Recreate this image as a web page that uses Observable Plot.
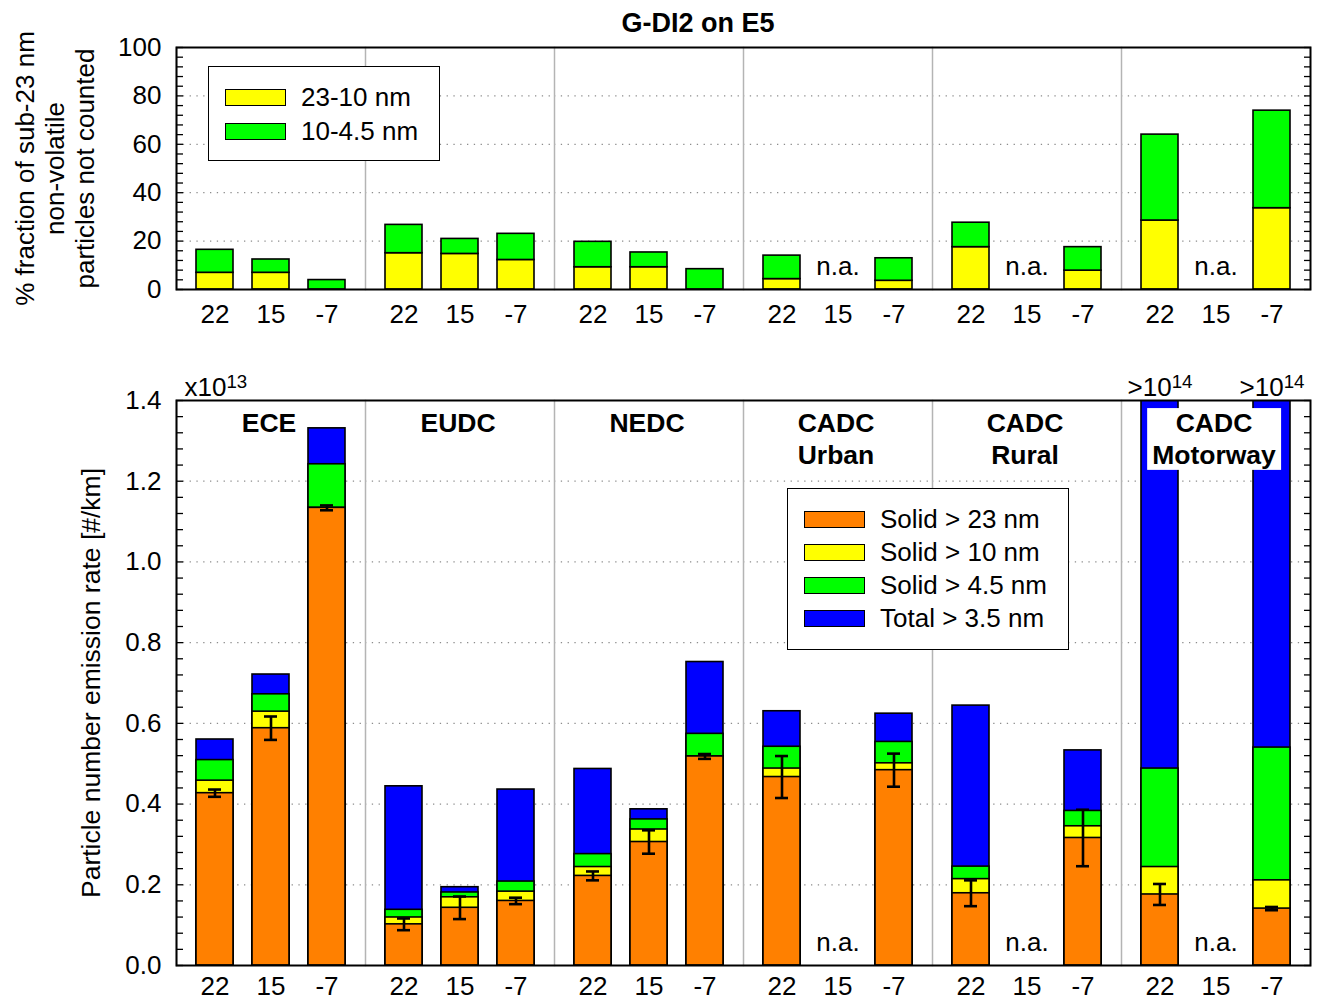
<!DOCTYPE html>
<html>
<head>
<meta charset="utf-8">
<script src="https://cdn.jsdelivr.net/npm/d3@7"></script>
<script src="https://cdn.jsdelivr.net/npm/@observablehq/plot@0.6"></script>
<style>
  body { margin: 0; background: #fff; }
  #chart { position: relative; width: 1320px; height: 1001px; font-family: "Liberation Sans", Arial, Helvetica, sans-serif; color: #000; }
  #chart svg { position: absolute; left: 0; overflow: visible; }
  .title { position: absolute; left: 548px; width: 300px; top: 7px; text-align: center; font-weight: bold; font-size: 27px; line-height: 32px; }
  .legend { position: absolute; border: 1.6px solid #000; background: #fff; box-sizing: border-box; z-index: 2; }
  .legend .row { position: absolute; left: 16px; display: flex; align-items: center; height: 30px; font-size: 26px; white-space: nowrap; }
  .legend .sw { width: 61px; height: 17px; border: 1.6px solid #000; box-sizing: border-box; margin-right: 15px; }
</style>
</head>
<body>
<div id="chart">
  <div class="title">G-DI2 on E5</div>
</div>
<script>
const FONT = '"Liberation Sans", Arial, Helvetica, sans-serif';

// Test cycles (facets) and test-cell temperatures (°C)
const groups = ["ECE", "EUDC", "NEDC", "CADC Urban", "CADC Rural", "CADC Motorway"];
const groupLabels = ["ECE", "EUDC", "NEDC", "CADC\nUrban", "CADC\nRural", "CADC\nMotorway"];
const temps = ["22", "15", "-7"];

// Upper panel: % of sub-23 nm non-volatile particles not counted, split by size band (null = n.a.)
const frac23to10 = [6.9, 6.9, 0, 15.0, 14.7, 12.2, 9.2, 9.2, 0, 4.3, null, 3.6, 17.5, null, 7.8, 28.5, null, 33.6];
const frac10to4p5 = [9.5, 5.5, 3.9, 11.7, 6.2, 10.8, 10.5, 6.1, 8.4, 9.7, null, 9.3, 10.1, null, 9.7, 35.5, null, 40.3];

// Lower panel: particle number emission rate, x10^13 #/km (null = n.a.)
const solid23 = [0.427, 0.588, 1.134, 0.102, 0.143, 0.160, 0.222, 0.306, 0.518, 0.467, null, 0.484, 0.179, null, 0.316, 0.176, null, 0.141];
const solid10 = [0.458, 0.629, 1.134, 0.119, 0.169, 0.183, 0.244, 0.337, 0.518, 0.488, null, 0.501, 0.214, null, 0.345, 0.244, null, 0.211];
const solid4p5 = [0.509, 0.672, 1.242, 0.138, 0.181, 0.208, 0.276, 0.362, 0.574, 0.542, null, 0.554, 0.245, null, 0.383, 0.488, null, 0.540];
const total3p5 = [0.560, 0.721, 1.331, 0.444, 0.194, 0.436, 0.487, 0.387, 0.752, 0.630, null, 0.624, 0.644, null, 0.533, 10, null, 10];
const solid23Err = [0.009, 0.029, 0.006, 0.0145, 0.028, 0.008, 0.011, 0.029, 0.006, 0.052, null, 0.041, 0.032, null, 0.070, 0.026, null, 0.004];

const fracSeries = ["23-10 nm", "10-4.5 nm"];
const fracColors = ["#ffff00", "#00ff00"];
const rateSeries = ["Solid > 23 nm", "Solid > 10 nm", "Solid > 4.5 nm", "Total > 3.5 nm"];
const rateColors = ["#ff8000", "#ffff00", "#00ff00", "#0000ff"];

// one cell per cycle x temperature
const cells = groups.flatMap((g, gi) => temps.map((t, ti) => ({group: g, temp: t, i: gi * 3 + ti})));
const naCells = cells.filter(c => total3p5[c.i] == null);

const fracArrays = [frac23to10, frac10to4p5];
const fracRows = cells.flatMap(c => fracSeries.map((s, k) => ({...c, series: s, value: fracArrays[k][c.i]})))
  .filter(d => d.value != null);

const rateArrays = [solid23, solid10, solid4p5, total3p5];
const rateRows = k => cells.filter(c => rateArrays[k][c.i] != null)
  .map(c => ({...c, series: rateSeries[k], value: rateArrays[k][c.i]}));
const errRows = cells.filter(c => solid23Err[c.i] != null)
  .map(c => ({...c, v: solid23[c.i], e: solid23Err[c.i]}));

const style = {fontFamily: FONT, fontSize: "26px", color: "#000", background: "transparent", overflow: "visible"};
const xScale = {domain: temps, paddingInner: 0.333, paddingOuter: 0.325, axis: null};
const fxScale = {domain: groups, padding: 0, axis: null};
const grid = {stroke: "#8c8c8c", strokeOpacity: 1, strokeWidth: 1.3, strokeDasharray: "1.3,5.5"};
const barStroke = {stroke: "#000", strokeWidth: 1.6};
// inward-pointing tick marks on both sides of the frame
const inwardTicks = ticks => ["left", "right"].map(anchor =>
  Plot.axisY({anchor, ticks, tickSize: -7, tickFormat: () => "", strokeWidth: 1.3, label: null}));

// ---------- upper panel ----------
const topPlot = Plot.plot({
  width: 1320, height: 340,
  marginTop: 47, marginBottom: 51, marginLeft: 175, marginRight: 10,
  style,
  fx: fxScale,
  x: xScale,
  y: {domain: [0, 100], axis: null},
  color: {domain: fracSeries, range: fracColors},
  marks: [
    Plot.gridY([20, 40, 60, 80], grid),
    Plot.frame({anchor: "left", stroke: "#b4b4b4", strokeWidth: 1.5}),
    Plot.barY(fracRows, {fx: "group", x: "temp", y: "value", z: "series", fill: "series", ...barStroke}),
    Plot.text(naCells, {fx: "group", x: "temp", y: 0, dy: -23, text: () => "n.a.", fontSize: 26}),
    Plot.axisX({tickSize: 0, tickPadding: 15, fontSize: 26, label: null}),
    Plot.axisY({anchor: "left", ticks: d3.range(0, 101, 20), tickSize: 0, tickPadding: 15, fontSize: 26, label: null}),
    ...inwardTicks(d3.range(0, 101, 4)),
    Plot.text([["% fraction of sub-23 nm", "non-volatile", "particles not counted"].join("\n")], {
      fx: () => groups[0], frameAnchor: "left", textAnchor: "middle", rotate: -90, dx: -122,
      lineAnchor: "middle", lineHeight: 1.15, fontSize: 26
    }),
    Plot.frame({facet: "super", stroke: "#000", strokeWidth: 2})
  ]
});
topPlot.style.top = "0px";

// ---------- lower panel ----------
const bottomPlot = Plot.plot({
  width: 1320, height: 661,
  marginTop: 60, marginBottom: 36, marginLeft: 175, marginRight: 10,
  style,
  fx: fxScale,
  x: xScale,
  y: {domain: [0, 1.4], axis: null},
  color: {domain: rateSeries, range: rateColors},
  marks: [
    Plot.gridY([0.2, 0.4, 0.6, 0.8, 1.0, 1.2], grid),
    Plot.frame({anchor: "left", stroke: "#b4b4b4", strokeWidth: 1.5}),
    // overlaid cumulative bars: widest size range at the back
    ...[3, 2, 1, 0].map(k => Plot.barY(rateRows(k), {
      fx: "group", x: "temp", y1: 0, y2: "value", fill: "series", clip: true, ...barStroke
    })),
    Plot.ruleX(errRows, {fx: "group", x: "temp", y1: d => d.v - d.e, y2: d => d.v + d.e, stroke: "#000", strokeWidth: 2.6}),
    Plot.tickY(errRows, {fx: "group", x: "temp", y: d => d.v - d.e, insetLeft: 12, insetRight: 12, stroke: "#000", strokeWidth: 2.6}),
    Plot.tickY(errRows, {fx: "group", x: "temp", y: d => d.v + d.e, insetLeft: 12, insetRight: 12, stroke: "#000", strokeWidth: 2.6}),
    Plot.text(naCells, {fx: "group", x: "temp", y: 0, dy: -23, text: () => "n.a.", fontSize: 26}),
    Plot.text(groups, {
      fx: d => d, text: (d, i) => groupLabels[i], frameAnchor: "top", lineAnchor: "top",
      dx: -2, dy: 9, lineHeight: 1.2, fontWeight: "bold", fontSize: 26.5
    }),
    Plot.text(cells.filter(c => total3p5[c.i] != null && total3p5[c.i] >= 10), {
      fx: "group", x: "temp", frameAnchor: "top", dy: -23, text: () => ">10^14", fontSize: 26
    }),
    Plot.text(["x10^13"], {fx: () => groups[0], frameAnchor: "top-left", textAnchor: "start", dx: 8, dy: -23, fontSize: 26}),
    Plot.axisX({tickSize: 0, tickPadding: 11, fontSize: 26, label: null}),
    Plot.axisY({anchor: "left", ticks: d3.range(0, 1.41, 0.2), tickFormat: d3.format(".1f"), tickSize: 0, tickPadding: 15, fontSize: 26, label: null}),
    ...inwardTicks(d3.range(0, 1.401, 0.04)),
    Plot.text(["Particle number emission rate [#/km]"], {
      fx: () => groups[0], frameAnchor: "left", textAnchor: "middle", rotate: -90, dx: -85, fontSize: 26.5
    }),
    Plot.frame({facet: "super", stroke: "#000", strokeWidth: 2})
  ]
});
bottomPlot.style.top = "340px";

const chart = document.getElementById("chart");
chart.append(topPlot, bottomPlot);

// powers of ten: turn "10^14" into a raised, smaller exponent
bottomPlot.querySelectorAll("text").forEach(t => {
  const m = /^(.*)\^(\d+)$/.exec(t.textContent);
  if (!m || t.children.length) return;
  t.textContent = m[1];
  const sup = document.createElementNS("http://www.w3.org/2000/svg", "tspan");
  sup.setAttribute("dy", "-0.45em");
  sup.setAttribute("font-size", "0.72em");
  sup.textContent = m[2];
  t.append(sup);
});

// white plates behind the cycle names so they stay readable over tall bars
const plateNames = new Set(groupLabels.map(s => s.replace("\n", "")));
bottomPlot.querySelectorAll("text").forEach(t => {
  if (!plateNames.has(t.textContent)) return;
  const bb = t.getBBox();
  const r = document.createElementNS("http://www.w3.org/2000/svg", "rect");
  r.setAttribute("x", bb.x - 5);
  r.setAttribute("y", bb.y);
  r.setAttribute("width", bb.width + 10);
  r.setAttribute("height", bb.height);
  r.setAttribute("fill", "#fff");
  if (t.getAttribute("transform")) r.setAttribute("transform", t.getAttribute("transform"));
  t.parentNode.insertBefore(r, t);
});

// legends
function legend(names, colors, box, rowTop, rowGap) {
  const div = document.createElement("div");
  div.className = "legend";
  Object.assign(div.style, box);
  names.forEach((n, i) => {
    const row = document.createElement("div");
    row.className = "row";
    row.style.top = (rowTop + i * rowGap) + "px";
    const sw = document.createElement("div");
    sw.className = "sw";
    sw.style.background = colors[i];
    const label = document.createElement("span");
    label.textContent = n;
    row.append(sw, label);
    div.append(row);
  });
  chart.append(div);
}
legend(fracSeries, fracColors, {left: "208px", top: "66px", width: "232px", height: "95px"}, 15, 34);
legend(rateSeries, rateColors, {left: "787px", top: "488px", width: "282px", height: "162px"}, 15, 33.3);
</script>
</body>
</html>
